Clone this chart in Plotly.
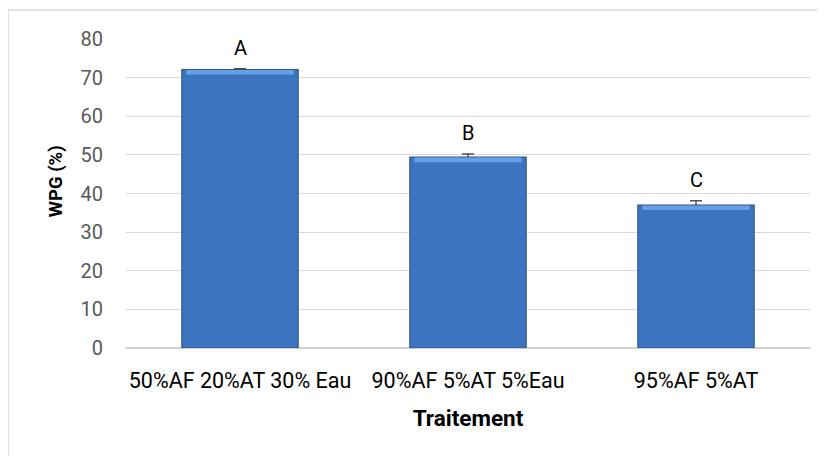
import plotly.graph_objects as go

categories = ["50%AF 20%AT 30% Eau", "90%AF 5%AT 5%Eau", "95%AF 5%AT"]
wpg = [72.1, 49.4, 37.0]
errors = [0.2, 0.8, 1.1]
letters = ["A", "B", "C"]
y_ticks = [0, 10, 20, 30, 40, 50, 60, 70, 80]

FONT = "Roboto"

fig = go.Figure()
fig.add_trace(go.Bar(
    x=categories, y=wpg,
    marker=dict(color="#3d74c0", line=dict(color="#2a5590", width=1.2)),
    error_y=dict(type="data", array=errors, visible=True, color="#505050", thickness=1.5, width=6),
    width=0.51, showlegend=False, hoverinfo="skip",
))
# lighter bevel highlight along the top of each bar
fig.add_trace(go.Bar(
    x=categories, y=[1.2] * len(wpg), base=[v - 1.3 for v in wpg],
    marker=dict(color="#63a0e6", line=dict(width=0)),
    width=0.47, showlegend=False, hoverinfo="skip",
))

for c, v, e, t in zip(categories, wpg, errors, letters):
    fig.add_annotation(x=c, y=v + e, text=t, showarrow=False, yanchor="bottom", yshift=7,
                       font=dict(family=FONT, size=20, color="#000000"))

# y-axis title (placed like the original, slightly above the axis centre)
fig.add_annotation(xref="paper", yref="paper", x=-0.1023, y=0.54, text="<b>WPG (%)</b>",
                   textangle=-90, showarrow=False, xanchor="center", yanchor="middle",
                   font=dict(family=FONT, size=18.5, color="#000000"))

fig.update_layout(
    width=817, height=448,
    barmode="overlay",
    paper_bgcolor="white", plot_bgcolor="white",
    margin=dict(l=118, r=15, t=31, b=108, autoexpand=False),
    font=dict(family=FONT, size=16, color="#404040"),
    xaxis=dict(
        title=dict(text="<b>Traitement</b>", font=dict(family=FONT, size=22.5, color="#000000"), standoff=18),
        tickfont=dict(family=FONT, size=21.5, color="#000000"),
        showline=False, ticks="", showgrid=False, ticklabelstandoff=17,
    ),
    yaxis=dict(
        range=[0, 80], tickvals=y_ticks, ticktext=[str(v) for v in y_ticks],
        tickfont=dict(family=FONT, size=20, color="#595959"),
        gridcolor="#d9d9d9", gridwidth=1, zeroline=True, zerolinecolor="#d0d0d0", zerolinewidth=1.5,
        showline=False, ticks="", ticklabelstandoff=22,
    ),
    shapes=[
        dict(type="line", xref="paper", yref="paper", x0=-0.1725, x1=1.03, y0=1.0939, y1=1.0939,
             line=dict(color="#d9d9d9", width=1.5)),
        dict(type="line", xref="paper", yref="paper", x0=-0.1725, x1=-0.1725, y0=1.0939, y1=-0.36,
             line=dict(color="#d9d9d9", width=1.5)),
    ],
)

fig.write_html("out.html")
